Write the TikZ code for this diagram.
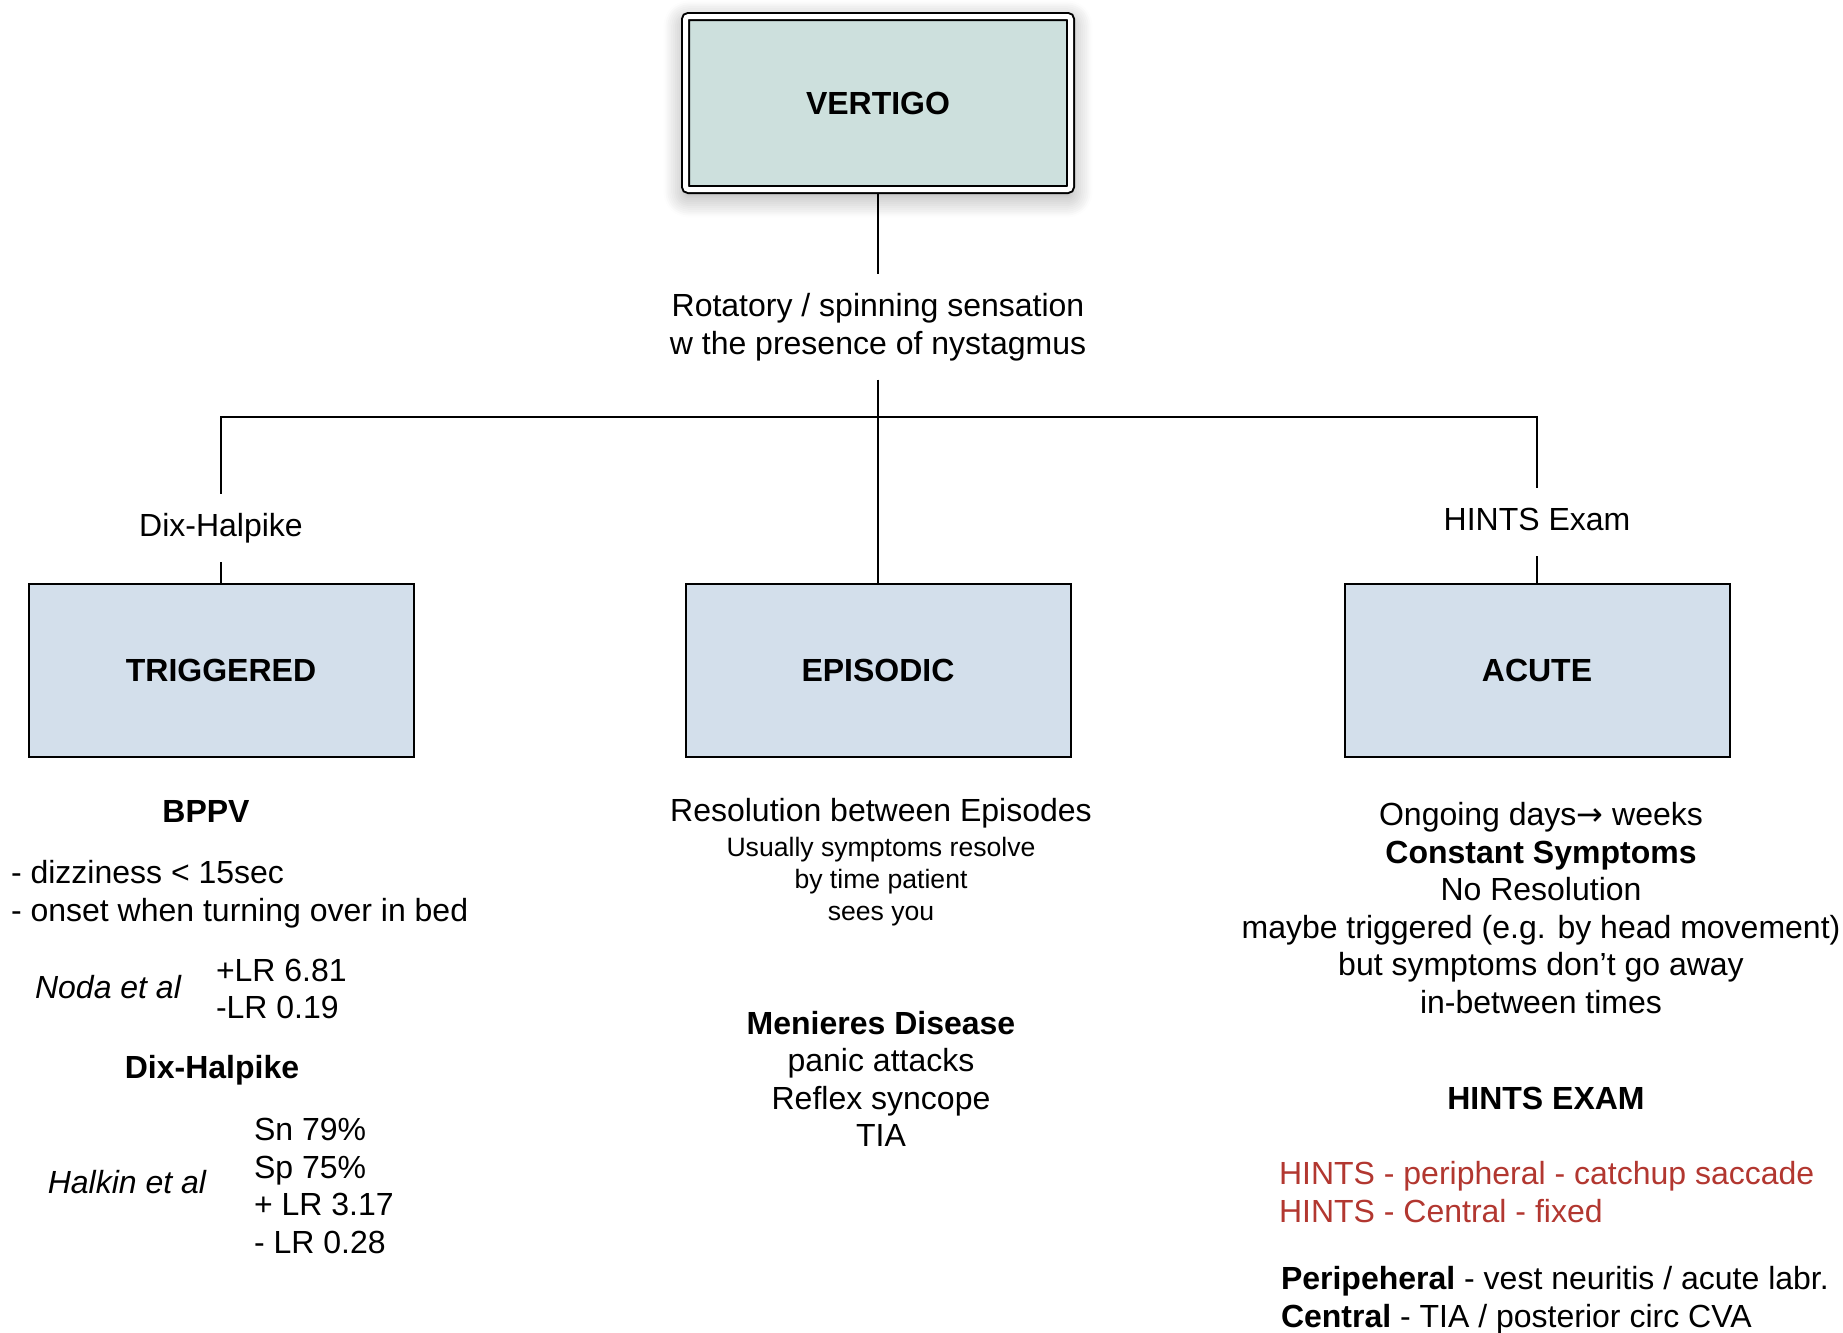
\documentclass[tikz,border=0pt]{standalone}
\usepackage{fontspec}
\setmainfont{Liberation Sans}
\newfontfamily\arrowfont{DejaVu Sans}
\usetikzlibrary{positioning,shadows.blur}
\definecolor{vertigofill}{RGB}{205,224,221}
\definecolor{catfill}{RGB}{211,223,235}
\definecolor{hintsred}{RGB}{178,55,48}

\begin{document}
\begin{tikzpicture}[
x=0.5pt, y=-0.5pt,
line width=1pt,
txt/.style={
  font=\fontsize{16pt}{18.75pt}\selectfont,
  inner sep=0pt,
  align=center
  },
smalltxt/.style={
  txt,
  font=\fontsize{13.3pt}{16pt}\selectfont
  },
boldtxt/.style={
  txt,
  font=\fontsize{16pt}{18.75pt}\selectfont\bfseries
  },
ittxt/.style={
  txt,
  font=\fontsize{16pt}{18.75pt}\selectfont\itshape
  },
listtxt/.style={
  txt,
  anchor=west,
  align=left
  },
critlabel/.style={
  txt,
  inner ysep=9pt,
  text height=11.7pt,
  text depth=3.4pt
  },
catbox/.style={
  draw,
  line width=1pt,
  fill=catfill,
  minimum width=192.5pt,
  minimum height=86.5pt,
  font=\fontsize{16pt}{18.75pt}\selectfont\bfseries
  },
topbox/.style={
  catbox,
  fill=vertigofill,
  double=white,
  double distance=2.5pt,
  rounded corners=1.5pt,
  outer sep=2.25pt,
  blur shadow={shadow xshift=0pt, shadow yshift=-3pt, shadow blur radius=11pt, shadow blur steps=12, shadow opacity=40}
  }
]
\useasboundingbox (0,0) rectangle (1843,1333);

% top of the tree
\node[topbox] (vertigo) at (878,103) {VERTIGO};
\node[txt, inner ysep=9pt] (rotatory) at (878,327) {Rotatory / spinning sensation\\w the presence of nystagmus};
\coordinate (split) at (878,417);
\node[critlabel] (dixlabel) at (221,528) {Dix-Halpike};
\node[critlabel] (hintslabel) at (1537,522) {HINTS Exam};

% the three kinds
\node[catbox] (triggered) at (221,670) {TRIGGERED};
\node[catbox] (episodic) at (878,670) {EPISODIC};
\node[catbox] (acute) at (1537,670) {ACUTE};

\draw (vertigo) -- (rotatory);
\draw (rotatory) -- (split);
\draw (dixlabel) |- (split) -| (hintslabel);
\draw (split) -- (episodic);
\draw (dixlabel) -- (triggered);
\draw (hintslabel) -- (acute);

% triggered
\node[boldtxt] (bppv) at (206,811) {BPPV};
\node[listtxt] (bppvsigns) at (10,894) {- dizziness < 15sec\\- onset when turning over in bed};
\node[ittxt] (noda) at (108,987) {Noda et al};
\node[listtxt] (nodalr) at (215,989) {+LR 6.81\\-LR 0.19};
\node[boldtxt] (dixhead) at (212,1070) {Dix-Halpike};
\node[ittxt] (halkin) at (127,1182) {Halkin et al};
\node[listtxt] (halkinstats) at (253,1186) {Sn 79\%\\Sp 75\%\\+ LR 3.17\\- LR 0.28};

% episodic
\node[txt] (resolution) at (881,813) {Resolution between Episodes};
\node[smalltxt] (usually) at (881,882) {Usually symptoms resolve\\by time patient\\sees you};
\node[txt] (episodiccauses) at (881,1079) {\textbf{Menieres Disease}\\panic attacks\\Reflex syncope\\TIA};

% acute
\node[txt] (ongoing) at (1541,908) {Ongoing days{\arrowfont→} weeks\\\textbf{Constant Symptoms}\\No Resolution\\maybe triggered (e.g. by head movement)\\but symptoms don’t go away\\in-between times};
\node[boldtxt] (hintshead) at (1546,1098) {HINTS EXAM};
\node[listtxt, text=hintsred] (hintsresult) at (1278,1192) {HINTS - peripheral - catchup saccade\\HINTS - Central - fixed};
\node[listtxt] (acutecauses) at (1280,1300) {\textbf{Peripeheral} - vest neuritis / acute labr.\\\textbf{Central} - TIA / posterior circ CVA};
\end{tikzpicture}
\end{document}
